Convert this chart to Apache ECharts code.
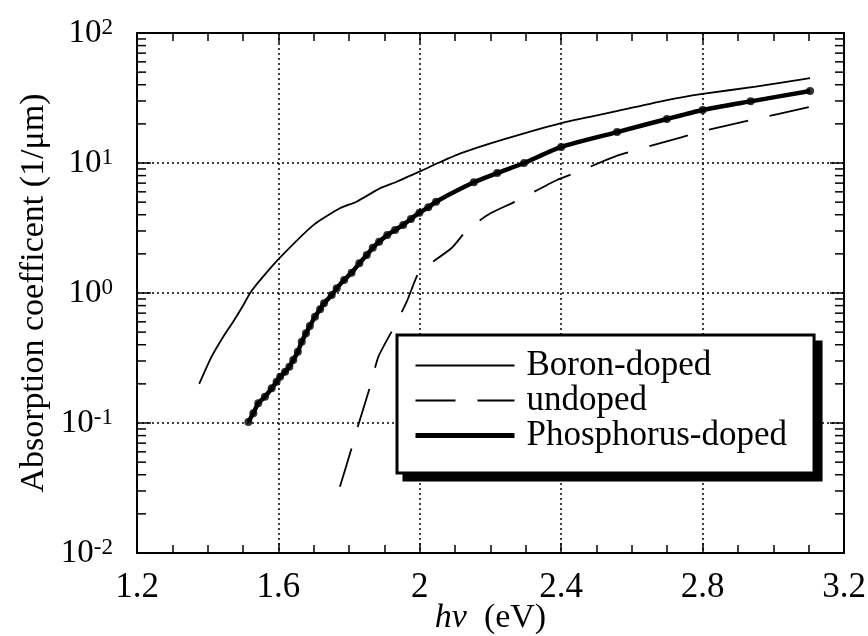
<!DOCTYPE html>
<html>
<head>
<meta charset="utf-8">
<script src="https://cdn.jsdelivr.net/npm/echarts@6/dist/echarts.min.js"></script>
<style>html,body{margin:0;padding:0;background:#fff;}#c{width:868px;height:636px;}</style>
</head>
<body>
<div id="c"></div>
<script>
// ---- data ----
const xTicks = [1.2, 1.6, 2.0, 2.4, 2.8, 3.2];
const xTickLabels = ['1.2', '1.6', '2', '2.4', '2.8', '3.2'];
const yTickExps = [-2, -1, 0, 1, 2];

const boronX = [1.376, 1.411, 1.444, 1.472, 1.501, 1.52, 1.553, 1.605, 1.699, 1.774, 1.821, 1.887, 1.935, 2.005, 2.052, 2.117, 2.23, 2.4, 2.55, 2.699, 2.8, 2.95, 3.104];
const boronY = [0.2, 0.324, 0.461, 0.601, 0.809, 1.0, 1.30, 1.88, 3.33, 4.48, 5.04, 6.38, 7.18, 8.73, 10.0, 11.9, 15.0, 20.3, 24.8, 30.5, 34.0, 38.7, 45.0];

const undopedX = [1.774, 1.807, 1.826, 1.86, 1.883, 1.932, 1.963, 2.0, 2.027, 2.09, 2.134, 2.2, 2.267, 2.388, 2.445, 2.563, 2.742, 2.8, 2.923, 3.104];
const undopedY = [0.0323, 0.064, 0.0966, 0.193, 0.324, 0.578, 0.857, 1.5, 1.67, 2.22, 3.05, 4.1, 5.0, 7.4, 8.5, 11.5, 15.8, 17.6, 21.0, 27.0];

const phosX = [1.515, 1.529, 1.543, 1.562, 1.581, 1.595, 1.605, 1.619, 1.631, 1.642, 1.655, 1.666, 1.678, 1.689, 1.7035, 1.718, 1.729, 1.751, 1.765, 1.786, 1.807, 1.829, 1.850, 1.867, 1.885, 1.908, 1.930, 1.953, 1.975, 1.999, 2.024, 2.046, 2.153, 2.219, 2.295, 2.4, 2.558, 2.699, 2.8, 2.936, 3.104];
const phosY = [0.102, 0.119, 0.142, 0.159, 0.185, 0.208, 0.227, 0.248, 0.271, 0.305, 0.353, 0.422, 0.490, 0.557, 0.658, 0.750, 0.834, 0.966, 1.09, 1.26, 1.43, 1.69, 1.96, 2.23, 2.48, 2.79, 3.05, 3.34, 3.71, 4.15, 4.56, 5.04, 7.1, 8.37, 10.0, 13.3, 17.3, 21.8, 25.6, 29.8, 35.8];

const seriesNames = ['Boron-doped', 'undoped', 'Phosphorus-doped'];
const yMinorMultipliers = [2, 3, 4, 5, 6, 7, 8, 9];

// ---- build ----
const FONT = '"Liberation Serif", "Times New Roman", serif';
const zip = (xs, ys) => xs.map((x, i) => [x, ys[i]]);
const xMin = xTicks[0], xMax = xTicks[xTicks.length - 1];
const yMin = Math.pow(10, yTickExps[0]), yMax = Math.pow(10, yTickExps[yTickExps.length - 1]);

const minorVals = [];
for (let e = yTickExps[0]; e < yTickExps[yTickExps.length - 1]; e++) {
  yMinorMultipliers.forEach(m => minorVals.push([xMin, m * Math.pow(10, e)]));
}

const axisLineStyle = { color: '#000', width: 2 };
const tickStyle = { color: '#000', width: 1.5 };
const legendLineWidths = [1.8, 1.8, 5];

function legendData(hide) {
  return seriesNames.map((n, i) => ({
    name: n,
    itemStyle: { opacity: 0 },
    lineStyle: { width: legendLineWidths[i], opacity: hide ? 0 : 1 }
  }));
}
const legendCommon = {
  orient: 'vertical', itemWidth: 99, itemHeight: 14, itemGap: 0,
  padding: [13, 27, 20, 16], borderColor: '#000', borderWidth: 3, borderRadius: 0,
  selectedMode: false
};

const option = {
  animation: false,
  backgroundColor: '#fff',
  grid: { left: 137, right: 24, top: 33, bottom: 83, containLabel: false, outerBoundsMode: 'none' },
  xAxis: [
    {
      type: 'value', min: xMin, max: xMax, interval: 0.4, position: 'bottom',
      axisLine: { show: true, onZero: false, lineStyle: axisLineStyle },
      axisTick: { show: true, inside: true, length: 10, lineStyle: tickStyle },
      minorTick: { show: true, splitNumber: 4, length: 8, lineStyle: tickStyle },
      splitLine: { show: true, lineStyle: { color: '#000', type: [2, 3], width: 1.5 } },
      axisLabel: {
        color: '#000', fontSize: 35, fontFamily: FONT, margin: 17,
        formatter: v => {
          let best = 0;
          xTicks.forEach((t, i) => { if (Math.abs(t - v) < Math.abs(xTicks[best] - v)) best = i; });
          return xTickLabels[best];
        }
      },
      name: '{i|hν}  (eV)', nameLocation: 'middle', nameGap: 48, nameMoveOverlap: false,
      nameTextStyle: { color: '#000', fontSize: 34, fontFamily: FONT,
        rich: { i: { fontStyle: 'italic', fontSize: 34, fontFamily: FONT, color: '#000' } } }
    },
    {
      type: 'value', min: xMin, max: xMax, interval: 0.4, position: 'top',
      axisLine: { show: true, onZero: false, lineStyle: axisLineStyle },
      axisTick: { show: true, inside: true, length: 10, lineStyle: tickStyle },
      minorTick: { show: true, splitNumber: 4, length: 8, lineStyle: tickStyle },
      splitLine: { show: false }, axisLabel: { show: false }
    }
  ],
  yAxis: [
    {
      type: 'log', logBase: 10, min: yMin, max: yMax, position: 'left',
      axisLine: { show: true, onZero: false, lineStyle: axisLineStyle },
      axisTick: { show: true, inside: true, length: 14, lineStyle: tickStyle },
      splitLine: { show: true, lineStyle: { color: '#000', type: [2, 3], width: 1.5 } },
      axisLabel: {
        color: '#000', margin: 24,
        formatter: v => '{b|10}{s|' + Math.round(Math.log10(v)) + '}',
        rich: {
          b: { fontSize: 33, fontFamily: FONT, color: '#000' },
          s: { fontSize: 23, fontFamily: FONT, color: '#000', verticalAlign: 'top' }
        }
      },
      name: 'Absorption coefficent (1/μm)', nameLocation: 'middle', nameGap: 86, nameRotate: 90,
      nameMoveOverlap: false,
      nameTextStyle: { color: '#000', fontSize: 34, fontFamily: FONT }
    },
    {
      type: 'log', logBase: 10, min: yMin, max: yMax, position: 'right',
      axisLine: { show: true, onZero: false, lineStyle: axisLineStyle },
      axisTick: { show: true, inside: true, length: 14, lineStyle: tickStyle },
      splitLine: { show: false }, axisLabel: { show: false }
    }
  ],
  legend: [
    Object.assign({}, legendCommon, {
      data: legendData(true), left: 404, top: 342, z: 3,
      backgroundColor: '#000',
      textStyle: { color: '#000', fontSize: 35, fontFamily: FONT, lineHeight: 33, padding: [0, 0, 0, 7] }
    }),
    Object.assign({}, legendCommon, {
      data: legendData(false), left: 397, top: 335, z: 6,
      backgroundColor: '#fff',
      textStyle: { color: '#000', fontSize: 35, fontFamily: FONT, lineHeight: 33, padding: [0, 0, 0, 7] }
    })
  ],
  series: [
    {
      name: seriesNames[0], type: 'line', data: zip(boronX, boronY), symbol: 'none', smooth: 0.2,
      lineStyle: { color: '#000', width: 1.8 }, itemStyle: { color: '#000' }
    },
    {
      name: seriesNames[1], type: 'line', data: zip(undopedX, undopedY), symbol: 'none', smooth: 0.2,
      lineStyle: { color: '#000', width: 1.8, type: [40, 22] }, itemStyle: { color: '#000' }
    },
    {
      name: seriesNames[2], type: 'line', data: zip(phosX, phosY), symbol: 'none', smooth: 0.2,
      lineStyle: { color: '#000', width: 4.5 }, itemStyle: { color: '#000' }
    },
    {
      name: 'Phosphorus dots', type: 'scatter', data: zip(phosX, phosY), symbol: 'circle', symbolSize: 8,
      itemStyle: { color: '#000' }
    },
    {
      name: 'minor y ticks', type: 'custom', data: minorVals, silent: true, clip: false,
      renderItem: (params, api) => {
        const v = api.value(1);
        const p1 = api.coord([xMin, v]);
        const p2 = api.coord([xMax, v]);
        return {
          type: 'group',
          children: [
            { type: 'line', shape: { x1: p1[0], y1: p1[1], x2: p1[0] + 9, y2: p1[1] }, style: { stroke: '#000', lineWidth: 1.5 } },
            { type: 'line', shape: { x1: p2[0], y1: p2[1], x2: p2[0] - 9, y2: p2[1] }, style: { stroke: '#000', lineWidth: 1.5 } }
          ]
        };
      }
    }
  ]
};

const chart = echarts.init(document.getElementById('c'), null, { renderer: 'canvas' });
chart.setOption(option);
</script>
</body>
</html>
